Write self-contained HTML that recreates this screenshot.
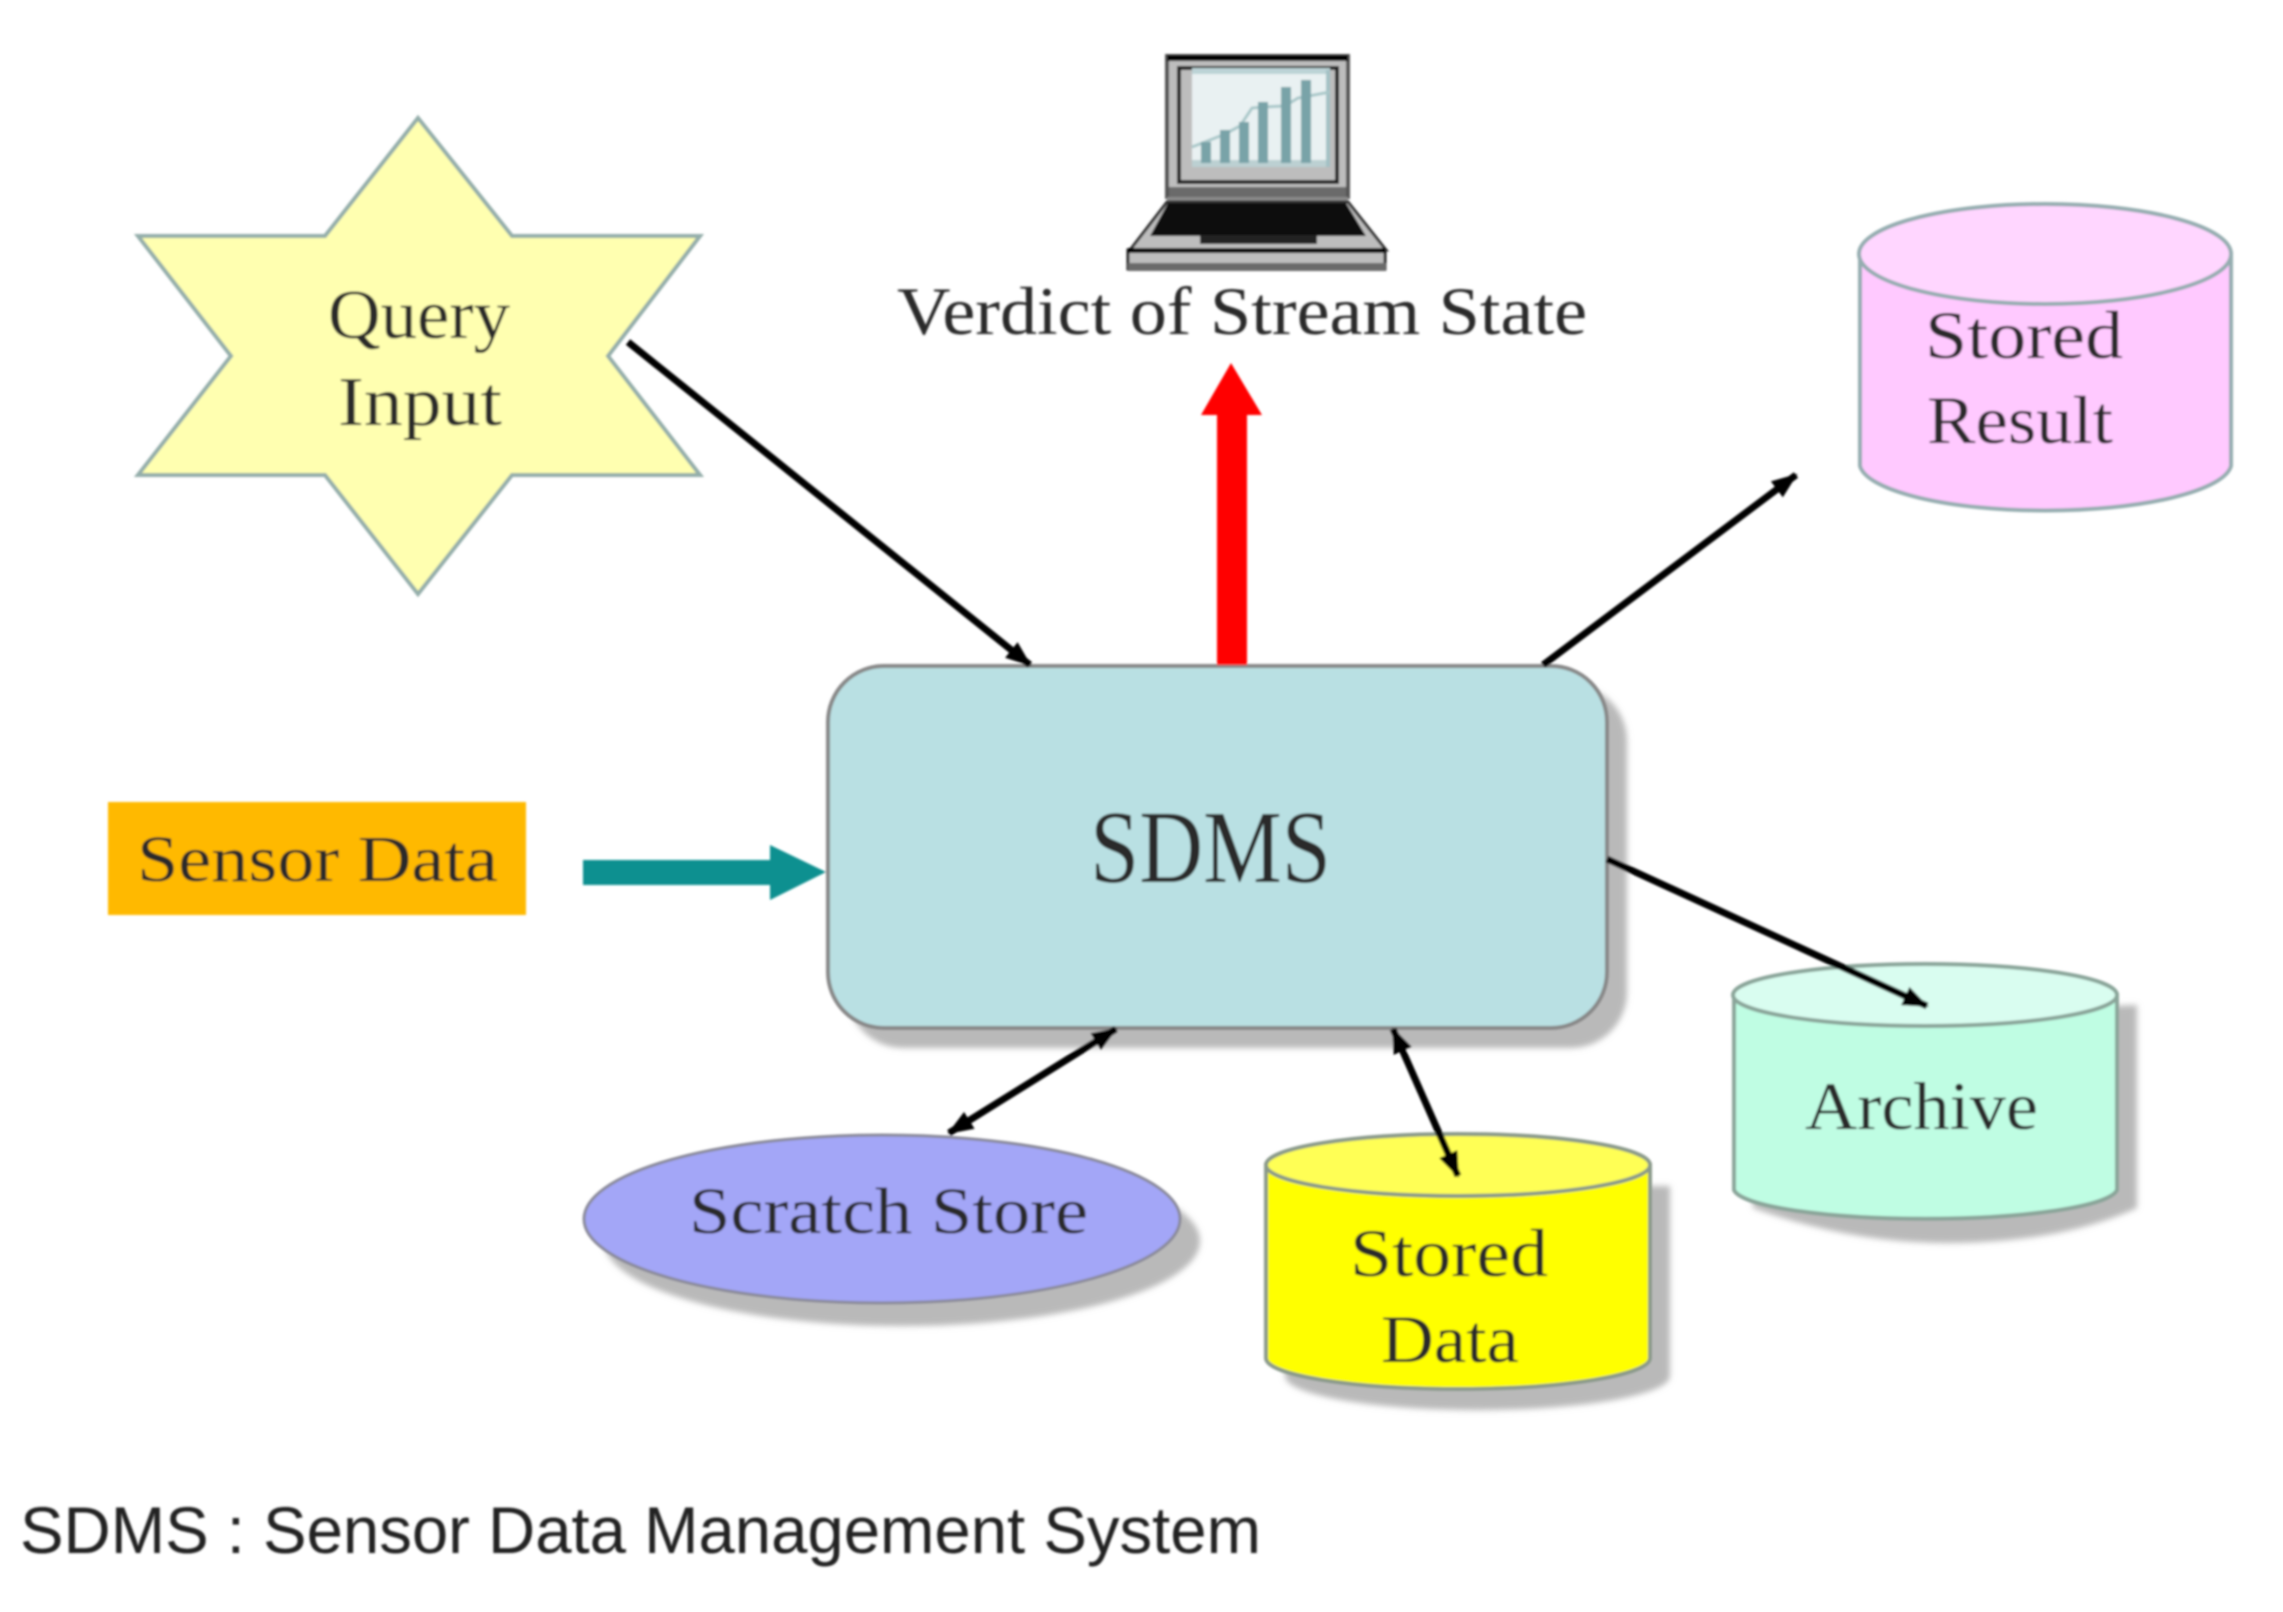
<!DOCTYPE html>
<html><head><meta charset="utf-8"><style>
html,body{margin:0;padding:0;background:#fff;width:2283px;height:1612px;overflow:hidden}
svg{display:block}
.t{font-family:"Liberation Serif",serif;fill:#2a2a2a}
</style></head><body>
<svg width="2283" height="1612" viewBox="0 0 2283 1612" xmlns="http://www.w3.org/2000/svg">
<defs>
<filter id="b" x="-5%" y="-5%" width="110%" height="110%"><feGaussianBlur stdDeviation="1.1"/></filter>
<filter id="s" x="-10%" y="-10%" width="120%" height="120%"><feGaussianBlur stdDeviation="3"/></filter>
<marker id="ah" markerUnits="userSpaceOnUse" markerWidth="30" markerHeight="26" refX="24" refY="13" orient="auto-start-reverse"><path d="M0 3L26 13L0 23Z" fill="#000"/></marker>
</defs>
<g filter="url(#b)">
<!-- star -->
<polygon points="418,118 512,236 700,236 608,356 700,475 512,475 418,594 325,475 138,475 231,356 138,236 325,236" fill="#ffffb0" stroke="#94aeaa" stroke-width="4"/>
<text class="t" font-size="70" x="328" y="338" textLength="182" lengthAdjust="spacingAndGlyphs">Query</text>
<text class="t" font-size="70" x="338" y="425" textLength="164" lengthAdjust="spacingAndGlyphs">Input</text>

<!-- laptop -->
<rect x="1167" y="56" width="181" height="141" fill="#bdbdbd" stroke="#555" stroke-width="4"/>
<rect x="1167" y="55" width="181" height="6" fill="#000"/>
<rect x="1169" y="187" width="177" height="10" fill="#6b6b6b"/>
<rect x="1179" y="68" width="158" height="114" fill="#bdbdbd" stroke="#222" stroke-width="4"/>
<rect x="1192" y="68" width="138" height="99" fill="#e9f1f2"/>
<rect x="1192" y="68" width="138" height="6" fill="#bcd3d6"/>
<rect x="1192" y="160" width="138" height="7" fill="#bcd0d2"/>
<rect x="1326" y="70" width="4" height="97" fill="#a3c1c5"/>
<polyline points="1192,147 1205,142 1225,134 1240,126 1252,108 1263,107 1285,106 1298,98 1330,92" fill="none" stroke="#a9c7c9" stroke-width="3"/>
<g fill="#79a3a8">
<rect x="1201" y="142" width="10" height="21"/><rect x="1220" y="130" width="10" height="33"/><rect x="1239" y="122" width="10" height="41"/><rect x="1258" y="102" width="10" height="61"/><rect x="1281" y="87" width="10" height="76"/><rect x="1301" y="80" width="10" height="83"/>
</g>
<rect x="1167" y="197" width="181" height="7" fill="#8a8a8a"/>
<polygon points="1167,202 1348,202 1386,250 1130,250" fill="#bdbdbd" stroke="#333" stroke-width="3"/>
<polygon points="1168,203 1346,203 1366,236 1150,236" fill="#111"/>
<rect x="1200" y="235" width="117" height="9" fill="#222"/>
<rect x="1128" y="250" width="257" height="19" fill="#bdbdbd" stroke="#222" stroke-width="3"/>
<rect x="1128" y="248" width="257" height="5" fill="#000"/>
<rect x="1128" y="263" width="258" height="8" fill="#6b6b6b"/>

<text class="t" font-size="68" x="897" y="334" textLength="690" lengthAdjust="spacingAndGlyphs">Verdict of Stream State</text>

<!-- stored result -->
<path d="M1860,254 V466 A186,48 0 0 0 2231,466 V254 Z" fill="#ffc9ff" stroke="#95adb0" stroke-width="4"/>
<ellipse cx="2045" cy="254" rx="186" ry="50" fill="#ffd6ff" stroke="#95adb0" stroke-width="4"/>
<text class="t" font-size="68" x="1925" y="358" textLength="198" lengthAdjust="spacingAndGlyphs">Stored</text>
<text class="t" font-size="68" x="1927" y="443" textLength="186" lengthAdjust="spacingAndGlyphs">Result</text>

<!-- SDMS -->
<rect x="847" y="685" width="780" height="363" rx="56" fill="#b9b9b9" filter="url(#s)"/>
<rect x="828" y="666" width="779" height="362" rx="56" fill="#b9e0e3" stroke="#888" stroke-width="4"/>
<text class="t" font-size="104" x="1090" y="882" textLength="241" lengthAdjust="spacingAndGlyphs">SDMS</text>

<!-- sensor data -->
<rect x="108" y="802" width="418" height="113" fill="#ffb900"/>
<text class="t" font-size="66" x="137" y="881" textLength="361" lengthAdjust="spacingAndGlyphs">Sensor Data</text>
<polygon points="583,860 770,860 770,845 826,872 770,900 770,885 583,885" fill="#0f9090"/>

<!-- red -->
<polygon points="1217,665 1217,415 1201,415 1231,363 1262,415 1247,415 1247,665" fill="#ff0000"/>

<!-- scratch -->
<ellipse cx="902" cy="1241" rx="298" ry="85" fill="#b9b9b9" filter="url(#s)"/>
<ellipse cx="882" cy="1219" rx="298" ry="84" fill="#a3a6f7" stroke="#8a8a9a" stroke-width="3"/>
<text class="t" font-size="66" x="689" y="1233" textLength="399" lengthAdjust="spacingAndGlyphs">Scratch Store</text>

<!-- stored data -->
<path d="M1285,1186 V1376 A192,34 0 0 0 1670,1376 V1186 Z" fill="#b9b9b9" filter="url(#s)"/>
<path d="M1266,1165 V1358 A192,31 0 0 0 1650,1358 V1165 Z" fill="#ffff00" stroke="#8a9a8a" stroke-width="4"/>
<ellipse cx="1458" cy="1165" rx="192" ry="31" fill="#ffff55" stroke="#8a9a8a" stroke-width="4"/>
<text class="t" font-size="68" x="1350" y="1276" textLength="198" lengthAdjust="spacingAndGlyphs">Stored</text>
<text class="t" font-size="68" x="1381" y="1362" textLength="138" lengthAdjust="spacingAndGlyphs">Data</text>

<!-- archive -->
<path d="M1753,1020 V1208 Q1850,1243 1945,1243 Q2060,1243 2137,1208 V1005 Z" fill="#b9b9b9" filter="url(#s)"/>
<path d="M1734,995 V1190 A192,31 0 0 0 2117,1190 V995 Z" fill="#bffde3" stroke="#8aa59a" stroke-width="4"/>
<ellipse cx="1925" cy="995" rx="192" ry="31" fill="#d9fdf0" stroke="#8aa59a" stroke-width="4"/>
<text class="t" font-size="68" x="1805" y="1129" textLength="233" lengthAdjust="spacingAndGlyphs">Archive</text>

<!-- connectors -->
<g stroke="#000" stroke-width="7" fill="none">
<line x1="628" y1="342" x2="1030" y2="665" marker-end="url(#ah)"/>
<line x1="1543" y1="665" x2="1796" y2="475" marker-end="url(#ah)"/>
<line x1="1607" y1="859" x2="1927" y2="1006" marker-end="url(#ah)"/>
<line x1="949" y1="1133" x2="1116" y2="1029" marker-start="url(#ah)" marker-end="url(#ah)"/>
<line x1="1393" y1="1029" x2="1458" y2="1176" marker-start="url(#ah)" marker-end="url(#ah)"/>
</g>

<text font-family="'Liberation Sans',sans-serif" font-size="66" fill="#222" x="20" y="1553" textLength="1241" lengthAdjust="spacingAndGlyphs">SDMS : Sensor Data Management System</text>
</g>
</svg>
</body></html>
